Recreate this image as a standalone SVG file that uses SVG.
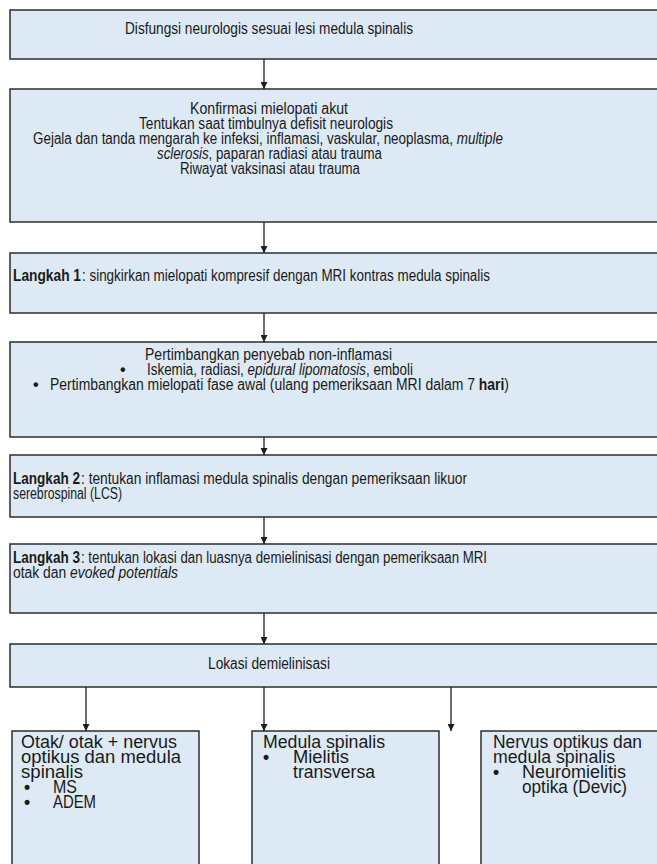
<svg xmlns="http://www.w3.org/2000/svg" width="657" height="864" viewBox="0 0 657 864">
<style>
.box{fill:#dde9f5;stroke:#2e2e2e;stroke-width:1.5}
.t{font-family:"Liberation Sans",Arial,sans-serif;font-size:16px;fill:#1a1a1a}
.s{font-family:"Liberation Sans",Arial,sans-serif;font-size:17.5px;fill:#1a1a1a}
.b{font-weight:bold}
.i{font-style:italic}
.conn line{stroke:#1e1e1e;stroke-width:1.3}
</style>
<defs>
<marker id="ah" viewBox="0 0 10 10" refX="10" refY="5" markerWidth="7" markerHeight="7" markerUnits="userSpaceOnUse" orient="auto">
<path d="M0,0 L10,5 L0,10 z" fill="#1e1e1e"/>
</marker>
</defs>
<rect width="657" height="864" fill="#ffffff"/>
<g id="n1">
<rect class="box" x="10" y="10" width="660" height="49"/>
<text class="t" x="125" y="34" textLength="288" lengthAdjust="spacingAndGlyphs">Disfungsi neurologis sesuai lesi medula spinalis</text>
</g>
<g id="n2">
<rect class="box" x="10" y="89" width="660" height="133"/>
<text class="t" x="190" y="114" textLength="158" lengthAdjust="spacingAndGlyphs">Konfirmasi mielopati akut</text>
<text class="t" x="139" y="129" textLength="254" lengthAdjust="spacingAndGlyphs">Tentukan saat timbulnya defisit neurologis</text>
<text class="t" x="33" y="144" textLength="470" lengthAdjust="spacingAndGlyphs">Gejala dan tanda mengarah ke infeksi, inflamasi, vaskular, neoplasma, <tspan class="i">multiple</tspan></text>
<text class="t" x="157" y="159" textLength="225" lengthAdjust="spacingAndGlyphs"><tspan class="i">sclerosis</tspan>, paparan radiasi atau trauma</text>
<text class="t" x="180" y="174" textLength="180" lengthAdjust="spacingAndGlyphs">Riwayat vaksinasi atau trauma</text>
</g>
<g id="n3">
<rect class="box" x="10" y="253" width="660" height="60"/>
<text class="t b" x="13" y="281" textLength="68" lengthAdjust="spacingAndGlyphs">Langkah 1</text>
<text class="t" x="82" y="281" textLength="408" lengthAdjust="spacingAndGlyphs">: singkirkan mielopati kompresif dengan MRI kontras medula spinalis</text>
</g>
<g id="n4">
<rect class="box" x="10" y="342" width="660" height="95"/>
<text class="t" x="145" y="360" textLength="247" lengthAdjust="spacingAndGlyphs">Pertimbangkan penyebab non-inflamasi</text>
<text class="t b" x="120" y="375">•</text>
<text class="t" x="147" y="375" textLength="266" lengthAdjust="spacingAndGlyphs">Iskemia, radiasi, <tspan class="i">epidural lipomatosis</tspan>, emboli</text>
<text class="t b" x="33" y="390">•</text>
<text class="t" x="50" y="390" textLength="459" lengthAdjust="spacingAndGlyphs">Pertimbangkan mielopati fase awal (ulang pemeriksaan MRI dalam 7 <tspan class="b">hari</tspan>)</text>
</g>
<g id="n5">
<rect class="box" x="10" y="455" width="660" height="62"/>
<text class="t b" x="13" y="484" textLength="67" lengthAdjust="spacingAndGlyphs">Langkah 2</text>
<text class="t" x="81" y="484" textLength="386" lengthAdjust="spacingAndGlyphs">: tentukan inflamasi medula spinalis dengan pemeriksaan likuor</text>
<text class="t" x="13" y="499" textLength="109" lengthAdjust="spacingAndGlyphs">serebrospinal (LCS)</text>
</g>
<g id="n6">
<rect class="box" x="10" y="544" width="660" height="69"/>
<text class="t b" x="13" y="563" textLength="67" lengthAdjust="spacingAndGlyphs">Langkah 3</text>
<text class="t" x="81" y="563" textLength="406" lengthAdjust="spacingAndGlyphs">: tentukan lokasi dan luasnya demielinisasi dengan pemeriksaan MRI</text>
<text class="t" x="13" y="578" textLength="165" lengthAdjust="spacingAndGlyphs">otak dan <tspan class="i">evoked potentials</tspan></text>
</g>
<g id="n7">
<rect class="box" x="10" y="644" width="660" height="43"/>
<text class="t" x="208" y="669" textLength="122" lengthAdjust="spacingAndGlyphs">Lokasi demielinisasi</text>
</g>
<g id="n8">
<rect class="box" x="12" y="731" width="187" height="145"/>
<text class="s" x="21" y="748" textLength="156" lengthAdjust="spacingAndGlyphs">Otak/ otak + nervus</text>
<text class="s" x="21" y="763" textLength="160" lengthAdjust="spacingAndGlyphs">optikus dan medula</text>
<text class="s" x="21" y="778" textLength="62" lengthAdjust="spacingAndGlyphs">spinalis</text>
<text class="s b" x="24" y="793">•</text>
<text class="s" x="53" y="793" textLength="24" lengthAdjust="spacingAndGlyphs">MS</text>
<text class="s b" x="24" y="808">•</text>
<text class="s" x="53" y="808" textLength="43" lengthAdjust="spacingAndGlyphs">ADEM</text>
</g>
<g id="n9">
<rect class="box" x="252" y="731" width="187" height="145"/>
<text class="s" x="263" y="748" textLength="122" lengthAdjust="spacingAndGlyphs">Medula spinalis</text>
<text class="s b" x="263" y="763">•</text>
<text class="s" x="293" y="763" textLength="56" lengthAdjust="spacingAndGlyphs">Mielitis</text>
<text class="s" x="293" y="778" textLength="82" lengthAdjust="spacingAndGlyphs">transversa</text>
</g>
<g id="n10">
<rect class="box" x="481" y="731" width="190" height="145"/>
<text class="s" x="493" y="748" textLength="149" lengthAdjust="spacingAndGlyphs">Nervus optikus dan</text>
<text class="s" x="493" y="763" textLength="122" lengthAdjust="spacingAndGlyphs">medula spinalis</text>
<text class="s b" x="493" y="778">•</text>
<text class="s" x="522" y="778" textLength="104" lengthAdjust="spacingAndGlyphs">Neuromielitis</text>
<text class="s" x="522" y="793" textLength="105" lengthAdjust="spacingAndGlyphs">optika (Devic)</text>
</g>
<g id="connectors" class="conn">
<line x1="264" y1="59" x2="264" y2="89" marker-end="url(#ah)"/>
<line x1="264" y1="222" x2="264" y2="253" marker-end="url(#ah)"/>
<line x1="264" y1="313" x2="264" y2="342" marker-end="url(#ah)"/>
<line x1="264" y1="437" x2="264" y2="455" marker-end="url(#ah)"/>
<line x1="264" y1="517" x2="264" y2="544" marker-end="url(#ah)"/>
<line x1="264" y1="613" x2="264" y2="644" marker-end="url(#ah)"/>
<line x1="86" y1="687" x2="86" y2="731" marker-end="url(#ah)"/>
<line x1="264" y1="687" x2="264" y2="731" marker-end="url(#ah)"/>
<line x1="451" y1="687" x2="451" y2="731" marker-end="url(#ah)"/>
</g>
</svg>
